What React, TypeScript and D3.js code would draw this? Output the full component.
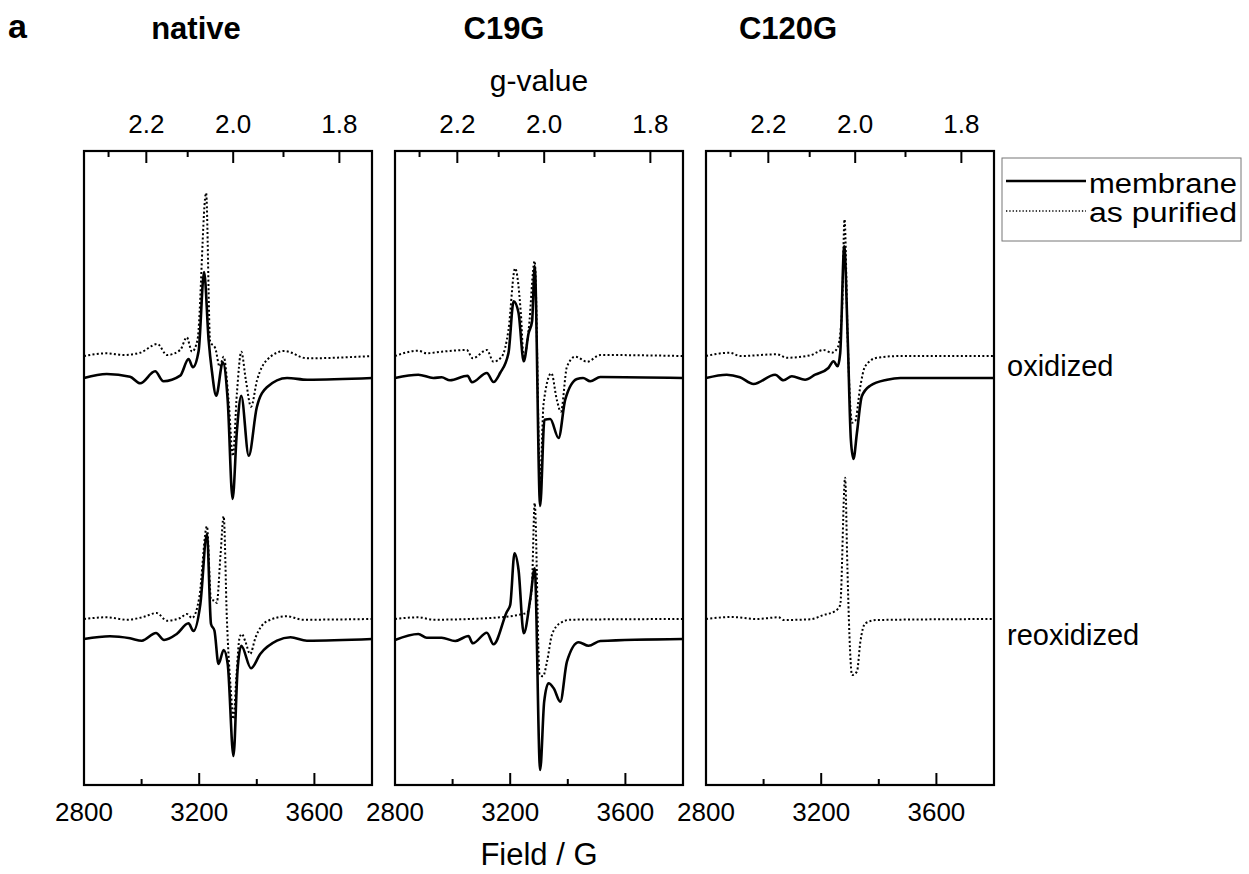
import React, { useEffect } from 'react';
import * as d3 from 'd3';

const W = 1249;
const H = 874;
const panelLeft = [84, 395, 706];
const panelW = 288;
const top = 151;
const bottom = 785;
const FONT = '"Liberation Sans", Arial, sans-serif';
const MW_FREQ = 9.288; // GHz, for the g-value axis

const titles = ['native', 'C19G', 'C120G'];
const titleX = [196, 504, 788];
const fieldMajor = [2800, 3200, 3600];
const fieldMinor = [3000, 3400];
const gMajor = [2.2, 2.0, 1.8];
const gMinor = [2.3, 2.1, 1.9];
const rowLabels = ['oxidized', 'reoxidized'];
const legendLabels = ['membrane', 'as purified'];

// vertical offsets of the stacked spectra (a.u.)
const offOxMembrane = 90;
const offOxPurified = 112;
const offReMembrane = -171;
const offRePurified = -151;

// [field (G), intensity (a.u.)]
const nativeOxMembrane = [
  [2800, 0], [2879, 4], [2960, 1.3], [2995, -5.3], [3047, 6.7], [3076, -3.3], [3134, 2.3],
  [3163, 19], [3178, 10.7], [3198, 27], [3217, 106], [3233, 37], [3244, 7], [3259, -17.7],
  [3282, 15.7], [3299, -22.7], [3316, -121], [3331, -52.7], [3346, -17.7], [3372, -77.7],
  [3400, -29.3], [3435, -9.3], [3505, 0], [3575, -1.7], [3800, 0],
];
const nativeOxPurified = [
  [2800, 0], [2879, 2.7], [2937, 1], [2995, 3.3], [3055, 12], [3088, 1], [3134, 6],
  [3157, 18.7], [3175, 4.3], [3194, 16], [3224, 163], [3238, 14.3], [3256, 7.7],
  [3271, -10.7], [3285, -0.7], [3302, -44], [3317, -100], [3331, -37], [3346, 4.3],
  [3362, -24], [3380, -50.7], [3401, -24], [3435, -4], [3496, 5], [3574, -2.3], [3800, 0],
];
const nativeReMembrane = [
  [2800, 0], [2890, 2.7], [2960, 0.7], [3001, -1.7], [3050, 6], [3078, -1], [3122, 5],
  [3163, 15.7], [3180, 8], [3204, 35], [3227, 105], [3241, 15], [3253, 8.3], [3267, -25],
  [3285, -11], [3299, -25], [3319, -117], [3333, -31.7], [3346, -6.7], [3380, -29.3],
  [3412, -15], [3470, -1.7], [3517, 1.7], [3574, -1.7], [3800, 0],
];
const nativeRePurified = [
  [2800, 0], [2879, 1.7], [2948, -0.7], [3006, 2], [3052, 6], [3088, -1.7], [3134, 1],
  [3157, 5], [3175, 1], [3200, 21], [3227, 92.7], [3241, 19.3], [3255, 18], [3261, 16],
  [3274, 64], [3285, 102.7], [3296, 1], [3310, -72], [3319, -100], [3329, -58],
  [3340, -19], [3348, -15], [3360, -22.3], [3377, -35], [3395, -19], [3435, -2.3],
  [3505, 2.7], [3560, -0.7], [3800, 0],
];
const c19OxMembrane = [
  [2800, 0], [2881, 3.3], [2933, 0], [2962, 0.7], [2991, -2.3], [3052, 2.3], [3067, -4.3],
  [3119, 5], [3142, -4], [3165, 5], [3194, 25], [3212, 76.7], [3229, 65], [3247, 16.7],
  [3264, 45], [3276, 56.7], [3285, 112], [3304, -128], [3319, -41.7], [3339, -41],
  [3368, -60], [3391, -21.7], [3432, -1], [3453, 0], [3478, -3.3], [3513, 1], [3800, 0],
];
const c19OxPurified = [
  [2800, 0], [2881, 5.3], [2910, 2.7], [2962, 4.3], [3049, 6], [3070, -2.3], [3119, 6],
  [3142, -5.7], [3171, -0.7], [3194, 26], [3217, 87.7], [3237, 42.7], [3247, -2.3],
  [3264, 26], [3285, 95], [3304, -124], [3316, -47.3], [3343, -17.3], [3362, -44],
  [3376, -55.7], [3397, -10.7], [3426, -0.7], [3467, -5.7], [3513, 1], [3800, 0],
];
const c19ReMembrane = [
  [2800, -1], [2881, 5], [2910, 1.3], [2962, 1.3], [3009, -2], [3055, 3], [3070, -4.3],
  [3119, 6.3], [3142, -5.3], [3188, 27], [3200, 34], [3215, 85.7], [3229, 69],
  [3247, 5.7], [3270, 40.7], [3285, 70.7], [3304, -131], [3318, -62.7], [3333, -44.3],
  [3351, -49.3], [3374, -62.7], [3397, -22.7], [3438, -3.3], [3472, -6.7], [3513, -2],
  [3800, 0],
];
const c19RePurified = [
  [2800, 0], [2881, 1.7], [2933, -0.7], [3130, 1], [3258, 6], [3275, 31], [3285, 116],
  [3302, -55.7], [3314, -57.3], [3328, -42.3], [3345, -15.7], [3374, -4], [3409, -0.7],
  [3800, 0],
];
const c120OxMembrane = [
  [2800, 0], [2872, 3.3], [2918, 0.7], [2965, -6], [3040, 3.3], [3069, -2.3], [3098, 1.7],
  [3144, -1.7], [3179, 3.3], [3225, 10], [3243, 16.7], [3257, 11.7], [3266, 25],
  [3280, 131.7], [3292, 40], [3303, -61.7], [3312, -81], [3324, -55], [3341, -18.3],
  [3370, -7.7], [3429, -1.7], [3475, 0], [3800, 0],
];
const c120OxPurified = [
  [2800, 0], [2883, 3.3], [2918, 0], [3046, 1.7], [3081, -1.7], [3162, 0.7], [3208, 6],
  [3237, 3.3], [3257, 8.3], [3272, 43.3], [3281, 136.7], [3292, 16.7], [3301, -50],
  [3307, -66.7], [3318, -65], [3336, -30], [3353, -10], [3394, -1.7], [3475, 0], [3800, 0],
];
const c120RePurified = [
  [2800, 0], [2889, 2], [2976, 0], [3052, 1.7], [3069, -1], [3162, -0.3], [3208, 4],
  [3249, 8], [3266, 14], [3283, 141.3], [3291, 50.7], [3298, -16], [3307, -56],
  [3324, -52.7], [3336, -22.7], [3353, -4.3], [3394, -1], [3800, 0],
];

const panels = [
  [
    { data: nativeOxMembrane, off: offOxMembrane, dotted: false },
    { data: nativeOxPurified, off: offOxPurified, dotted: true },
    { data: nativeReMembrane, off: offReMembrane, dotted: false },
    { data: nativeRePurified, off: offRePurified, dotted: true },
  ],
  [
    { data: c19OxMembrane, off: offOxMembrane, dotted: false },
    { data: c19OxPurified, off: offOxPurified, dotted: true },
    { data: c19ReMembrane, off: offReMembrane, dotted: false },
    { data: c19RePurified, off: offRePurified, dotted: true },
  ],
  [
    { data: c120OxMembrane, off: offOxMembrane, dotted: false },
    { data: c120OxPurified, off: offOxPurified, dotted: true },
    { data: c120RePurified, off: offRePurified, dotted: true },
  ],
];

const gToField = (g: number) => (714.477 * MW_FREQ) / g;

const yScale = d3.scaleLinear().domain([-317, 317]).range([bottom, top]);

function Panel({ idx }: { idx: number }) {
  const x0 = panelLeft[idx];
  const xScale = d3.scaleLinear().domain([2800, 3800]).range([x0, x0 + panelW]);
  return (
    <g>
      {panels[idx].map((s, i) => {
        const line = d3
          .line<number[]>()
          .x(d => xScale(d[0]))
          .y(d => yScale(d[1] + s.off))
          .curve(d3.curveMonotoneX);
        return (
          <path
            key={i}
            d={line(s.data) || ''}
            fill="none"
            stroke="#000"
            strokeWidth={s.dotted ? 2 : 2.6}
            strokeDasharray={s.dotted ? '2 2.3' : undefined}
            strokeLinejoin="round"
          />
        );
      })}
      <rect x={x0} y={top} width={panelW} height={bottom - top} fill="none" stroke="#000" strokeWidth={2.2} />
      {/* bottom ticks, inward */}
      {fieldMajor.map(v => (
        <line key={'bM' + v} x1={xScale(v)} x2={xScale(v)} y1={bottom} y2={bottom - 12} stroke="#000" strokeWidth={2} />
      ))}
      {fieldMinor.map(v => (
        <line key={'bm' + v} x1={xScale(v)} x2={xScale(v)} y1={bottom} y2={bottom - 6} stroke="#000" strokeWidth={2} />
      ))}
      {fieldMajor.map(v => (
        <text key={'bl' + v} x={xScale(v)} y={821} textAnchor="middle" fontSize={26} fontFamily={FONT}>
          {v}
        </text>
      ))}
      {/* top ticks (g-value), inward */}
      {gMajor.map(g => (
        <line key={'tM' + g} x1={xScale(gToField(g))} x2={xScale(gToField(g))} y1={top} y2={top + 12} stroke="#000" strokeWidth={2} />
      ))}
      {gMinor.map(g => (
        <line key={'tm' + g} x1={xScale(gToField(g))} x2={xScale(gToField(g))} y1={top} y2={top + 6} stroke="#000" strokeWidth={2} />
      ))}
      {gMajor.map(g => (
        <text key={'tl' + g} x={xScale(gToField(g))} y={133} textAnchor="middle" fontSize={26} fontFamily={FONT}>
          {g.toFixed(1)}
        </text>
      ))}
      <text x={titleX[idx]} y={39} textAnchor="middle" fontSize={31} fontWeight="bold" fontFamily={FONT}>
        {titles[idx]}
      </text>
    </g>
  );
}

export default function App() {
  useEffect(() => {
    document.body.style.margin = '0';
  }, []);
  const midX = panelLeft[1] + panelW / 2;
  return (
    <svg width={W} height={H} style={{ display: 'block', background: '#fff' }}>
      <text x={8} y={38} fontSize={34} fontWeight="bold" fontFamily={FONT}>a</text>
      {[0, 1, 2].map(i => (
        <Panel key={i} idx={i} />
      ))}
      <text x={midX} y={91} textAnchor="middle" fontSize={30} fontFamily={FONT}>g-value</text>
      <text x={midX} y={865} textAnchor="middle" fontSize={31} fontFamily={FONT}>Field / G</text>
      <g>
        <rect x={1002} y={158} width={239} height={83} fill="#fff" stroke="#777" strokeWidth={1} />
        <line x1={1006} x2={1086} y1={181} y2={181} stroke="#000" strokeWidth={2.5} />
        <line x1={1006} x2={1086} y1={211} y2={211} stroke="#000" strokeWidth={1.3} strokeDasharray="1.3 2" />
        <text x={1089} y={193} fontSize={27} fontFamily={FONT} textLength={148} lengthAdjust="spacingAndGlyphs">
          {legendLabels[0]}
        </text>
        <text x={1089} y={222} fontSize={27} fontFamily={FONT} textLength={148} lengthAdjust="spacingAndGlyphs">
          {legendLabels[1]}
        </text>
      </g>
      <text x={1007} y={376} fontSize={29} fontFamily={FONT}>{rowLabels[0]}</text>
      <text x={1007} y={645} fontSize={29} fontFamily={FONT}>{rowLabels[1]}</text>
    </svg>
  );
}
